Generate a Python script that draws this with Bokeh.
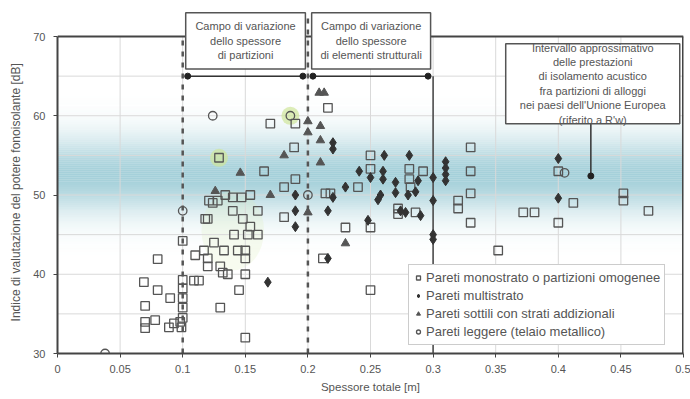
import numpy as np
from bokeh.plotting import figure
from bokeh.models import Range1d, FixedTicker, Legend, LegendItem
from bokeh.embed import file_html
from bokeh.resources import INLINE
from bokeh.core.properties import value

FONT = "Liberation Sans"

# ---------------- data ----------------
x_ticks = [0, 0.05, 0.1, 0.15, 0.2, 0.25, 0.3, 0.35, 0.4, 0.45, 0.5]
x_tick_labels = ["0", "0.05", "0.1", "0.15", "0.2", "0.25", "0.3", "0.35", "0.4", "0.45", "0.5"]
y_ticks = [30, 40, 50, 60, 70]
y_grid = [35, 40, 45, 50, 55, 60, 65]

# Pareti monostrato o partizioni omogenee (open squares)
sq_x = [0.069, 0.080, 0.090, 0.070, 0.070, 0.070, 0.078, 0.089, 0.093, 0.098, 0.080,
        0.100, 0.100, 0.100, 0.100, 0.100, 0.100, 0.099, 0.109, 0.113,
        0.120, 0.118, 0.120, 0.110, 0.117, 0.120, 0.130, 0.132, 0.136, 0.125, 0.133, 0.144, 0.150, 0.150, 0.150, 0.145, 0.130, 0.150,
        0.141, 0.152, 0.160, 0.154, 0.140, 0.148, 0.160, 0.181,
        0.121, 0.128, 0.140, 0.147, 0.154, 0.134, 0.124, 0.165, 0.181, 0.190, 0.189, 0.190, 0.170, 0.129,
        0.214, 0.218, 0.216, 0.250, 0.250, 0.240, 0.281, 0.292, 0.281, 0.282, 0.230, 0.250, 0.250, 0.212, 0.272, 0.272, 0.286,
        0.330, 0.330, 0.330, 0.320, 0.320, 0.330, 0.352, 0.372, 0.381, 0.400, 0.400, 0.412, 0.452, 0.452, 0.472]
sq_y = [39.0, 38.0, 37.0, 36.0, 34.0, 33.2, 34.2, 33.3, 33.8, 34.0, 41.9,
        44.2, 39.3, 38.2, 37.0, 35.8, 34.5, 33.3, 39.2, 39.2,
        47.0, 47.0, 42.0, 42.4, 43.0, 41.0, 41.0, 40.2, 40.0, 44.0, 43.0, 43.0, 43.0, 42.0, 40.0, 38.0, 35.8, 32.0,
        45.0, 45.0, 45.0, 46.0, 48.0, 47.0, 48.0, 47.2,
        49.3, 49.3, 49.7, 49.7, 50.0, 50.0, 49.0, 53.0, 51.0, 52.0, 56.0, 59.0, 59.0, 54.7,
        50.2, 50.2, 61.0, 55.0, 53.3, 51.0, 53.3, 53.0, 52.0, 51.0, 45.9, 45.9, 38.0, 42.0, 48.3, 47.6, 47.8,
        56.0, 53.0, 50.2, 49.3, 48.3, 46.5, 43.0, 47.8, 47.8, 46.5, 53.0, 49.0, 50.2, 49.3, 48.0]

# Pareti multistrato (filled diamonds)
ms_x = [0.168, 0.190, 0.190, 0.190, 0.220, 0.220, 0.216, 0.220, 0.216, 0.230, 0.241, 0.250, 0.261,
        0.260, 0.260, 0.258, 0.256, 0.248, 0.270, 0.270, 0.281, 0.288, 0.280, 0.286, 0.278, 0.290,
        0.274, 0.300, 0.300, 0.300, 0.300, 0.310, 0.310, 0.310, 0.310, 0.400, 0.400]
ms_y = [39.0, 50.0, 48.0, 46.0, 56.6, 55.8, 48.0, 49.7, 42.0, 51.0, 53.0, 52.2, 55.0,
        53.0, 52.0, 50.0, 49.4, 46.8, 51.6, 50.3, 55.0, 51.8, 50.0, 50.4, 47.8, 47.4,
        48.0, 52.2, 49.3, 45.0, 44.4, 54.2, 53.4, 52.6, 51.8, 54.6, 49.6]

# Pareti sottili con strati addizionali (filled triangles)
tr_x = [0.146, 0.181, 0.170, 0.126, 0.209, 0.213, 0.210, 0.200, 0.210, 0.210, 0.200, 0.230, 0.200]
tr_y = [52.8, 55.0, 50.0, 50.5, 62.9, 62.9, 58.7, 57.9, 56.9, 54.1, 47.8, 43.9, 59.3]

# Pareti leggere (telaio metallico) (open circles)
lg_x = [0.038, 0.124, 0.186, 0.200, 0.100, 0.405]
lg_y = [30.0, 60.0, 60.0, 50.0, 48.0, 52.8]

# highlighted points
hl_x = [0.129, 0.186]
hl_y = [54.7, 60.0]

# EU performance band (R'w)
BAND_CENTER = 52.5
BAND_SIGMA = 3.3

# thickness ranges
range_start = [0.1, 0.2]
range_end = [0.2, 0.3]
RANGE_Y = 65
EU_POINT_X = 0.426
EU_POINT_Y = 52.4

box_texts = ["Campo di variazione\ndello spessore\ndi partizioni",
             "Campo di variazione\ndello spessore\ndi elementi strutturali",
             "Intervallo approssimativo\ndelle prestazioni\ndi isolamento acustico\nfra partizioni di alloggi\nnei paesi dell'Unione Europea\n(riferito a R'w)"]
box_left = [0.1024, 0.2030, 0.3580]
box_right = [0.1980, 0.2980, 0.4970]
box_bottom = [65.9, 65.9, 59.0]
box_top = [73.0, 73.0, 69.1]

X_MIN, X_MAX, Y_MIN, Y_MAX = 0, 0.5, 30, 70
Y_TOP = 74.04

# ---------------- figure ----------------
p = figure(width=690, height=399, x_range=Range1d(X_MIN, X_MAX), y_range=Range1d(Y_MIN, Y_TOP),
           output_backend="svg", toolbar_location=None,
           min_border_left=57, min_border_right=7, min_border_top=4, min_border_bottom=46,
           outline_line_color=None, background_fill_color="white", border_fill_color="white")
p.grid.visible = False

# teal band
band_y = np.arange(BAND_CENTER - 10, BAND_CENTER + 10, 0.25)
band_alpha = 0.78 * np.exp(-0.5 * ((band_y + 0.125 - BAND_CENTER) / BAND_SIGMA) ** 2)
p.quad(left=X_MIN, right=X_MAX, bottom=band_y, top=band_y + 0.25,
       fill_color="#8cc3cf", fill_alpha=band_alpha, line_color=None)
# faint green area
p.ellipse(x=0.14, y=45.5, width=0.05, height=10, fill_color="#dcefb8", fill_alpha=0.22, line_color=None)

# grid
p.segment(x0=x_ticks[1:-1], y0=Y_MIN, x1=x_ticks[1:-1], y1=Y_MAX, line_color="#d9d9d9", line_width=1)
p.segment(x0=X_MIN, y0=y_grid, x1=X_MAX, y1=y_grid, line_color="#d9d9d9", line_width=1)

# frame top / right
p.segment(x0=[X_MIN], y0=[Y_MAX], x1=[X_MAX], y1=[Y_MAX], line_color="#444", line_width=2)
p.segment(x0=[X_MAX], y0=[Y_MIN], x1=[X_MAX], y1=[Y_MAX], line_color="#444", line_width=3)

# vertical limits
p.segment(x0=range_start, y0=Y_MIN, x1=range_start, y1=[Y_MAX, 72.5],
          line_color="#555", line_width=2.5, line_dash="5 6")
p.segment(x0=[range_end[1]], y0=[Y_MIN], x1=[range_end[1]], y1=[RANGE_Y],
          line_color="#444", line_width=1.5)
# range arrows
p.segment(x0=[s + 0.004 for s in range_start], y0=RANGE_Y, x1=[e - 0.004 for e in range_end], y1=RANGE_Y,
          line_color="#333", line_width=1.5)
p.scatter(x=[s + 0.004 for s in range_start] + [e - 0.004 for e in range_end], y=RANGE_Y,
          marker="circle", size=6, fill_color="#222", line_color="#222")

# highlights
p.scatter(x=hl_x, y=hl_y, marker="circle", size=18, fill_color="#cfe69a", fill_alpha=0.7, line_color=None)

r_sq = p.scatter(x=sq_x, y=sq_y, marker="square", size=8.5, fill_color=None, line_color="#555", line_width=1.3)
r_ms = p.scatter(x=ms_x, y=ms_y, marker="diamond", size=10, fill_color="#333", line_color="#333")
r_tr = p.scatter(x=tr_x, y=tr_y, marker="triangle", size=8.5, fill_color="#555", line_color="#555")
r_lg = p.scatter(x=lg_x, y=lg_y, marker="circle", size=8.5, fill_color=None, line_color="#555", line_width=1.3)

# EU pointer
p.segment(x0=[EU_POINT_X], y0=[box_bottom[2]], x1=[EU_POINT_X], y1=[EU_POINT_Y], line_color="#333", line_width=1.5)
p.scatter(x=[EU_POINT_X], y=[EU_POINT_Y], marker="circle", size=6, fill_color="#222", line_color="#222")

# boxes
p.quad(left=box_left, right=box_right, bottom=box_bottom, top=box_top,
       fill_color="white", line_color="#555", line_width=1.5)
p.text(x=[(l + r) / 2 for l, r in zip(box_left, box_right)],
       y=[(b + t) / 2 for b, t in zip(box_bottom, box_top)],
       text=box_texts, text_font=value(FONT), text_font_size="11px", text_align="center",
       text_baseline="middle", text_color="#555", text_line_height=1.2)

# axes
for ax in (p.xaxis[0], p.yaxis[0]):
    ax.axis_line_color = "#444"
    ax.axis_line_width = 2
    ax.major_tick_line_color = "#444"
    ax.major_tick_out = 4
    ax.major_tick_in = 0
    ax.minor_tick_line_color = None
    ax.major_label_text_font = FONT
    ax.major_label_text_font_size = "11px"
    ax.major_label_text_color = "#555"
    ax.axis_label_text_font = FONT
    ax.axis_label_text_color = "#555"
    ax.axis_label_text_font_style = "normal"
p.xaxis.ticker = FixedTicker(ticks=x_ticks)
p.xaxis.major_label_overrides = dict(zip(x_ticks, x_tick_labels))
p.xaxis.major_label_standoff = 7
p.xaxis.axis_label = "Spessore totale [m]"
p.xaxis.axis_label_text_font_size = "11.5px"
p.xaxis.axis_label_standoff = 5
p.yaxis.ticker = FixedTicker(ticks=y_ticks)
p.yaxis.bounds = (Y_MIN, Y_MAX)
p.yaxis.major_label_standoff = 8
# trailing no-break spaces keep the title centred on the 30-70 span
p.yaxis.axis_label = "Indice di valutazione del potere fonoisolante [dB]" + "\u00a0" * 8
p.yaxis.axis_label_text_font_size = "12px"
p.yaxis.axis_label_standoff = 7

legend = Legend(items=[
    LegendItem(label="Pareti monostrato o partizioni omogenee", renderers=[r_sq]),
    LegendItem(label="Pareti multistrato", renderers=[r_ms]),
    LegendItem(label="Pareti sottili con strati addizionali", renderers=[r_tr]),
    LegendItem(label="Pareti leggere (telaio metallico)", renderers=[r_lg]),
], location=(351, 8), label_text_font=FONT, label_text_font_size="13px", label_text_color="#555",
    glyph_height=17, glyph_width=10, label_height=17, spacing=1, padding=4, margin=0,
    border_line_color="#999", border_line_width=1, background_fill_color="white", background_fill_alpha=1,
    label_standoff=3)
p.add_layout(legend)

open("out.html", "w").write(file_html(p, INLINE))
